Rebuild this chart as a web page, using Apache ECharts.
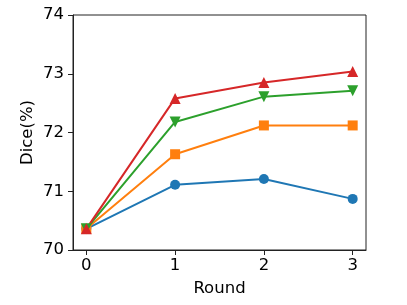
<!DOCTYPE html>
<html>
<head>
<meta charset="utf-8">
<script src="https://cdn.jsdelivr.net/npm/echarts@6/dist/echarts.min.js"></script>
<style>html,body{margin:0;padding:0;background:#fff;}#c{width:407px;height:305px;}</style>
</head>
<body>
<div id="c"></div>
<script>
const rounds = [0, 1, 2, 3];
const xTicks = [0, 1, 2, 3];
const yTicks = [70, 71, 72, 73, 74];
const seriesBlue = [70.36, 71.11, 71.21, 70.87];
const seriesOrange = [70.36, 71.63, 72.12, 72.12];
const seriesGreen = [70.36, 72.18, 72.61, 72.71];
const seriesRed = [70.36, 72.58, 72.85, 73.04];

const font = 'DejaVu Sans';
const fs = 16.5;
function mk(vals, color, symbol, size) {
  return {
    type: 'line',
    data: rounds.map((r, i) => [r, vals[i]]),
    symbol: symbol,
    symbolSize: size,
    showAllSymbol: true,
    lineStyle: { color: color, width: 2 },
    itemStyle: { color: color },
    animation: false
  };
}
const chart = echarts.init(document.getElementById('c'));
chart.setOption({
  animation: false,
  grid: { left: 73, right: 41, top: 15, bottom: 55, show: true, borderColor: '#222', borderWidth: 1, backgroundColor: '#fff' },
  xAxis: {
    type: 'value', min: -0.15, max: 3.15,
    name: 'Round', nameLocation: 'middle', nameGap: 30, nameMoveOverlap: false,
    nameTextStyle: { fontFamily: font, fontSize: fs, color: '#000' },
    axisLine: { onZero: false, lineStyle: { color: '#222', width: 1 } },
    axisTick: { show: true, length: 5, lineStyle: { color: '#222' }, customValues: xTicks },
    axisLabel: { fontFamily: font, fontSize: fs, color: '#000', margin: 7, customValues: xTicks },
    splitLine: { show: false }
  },
  yAxis: {
    type: 'value', min: 70, max: 74, interval: 1,
    name: 'Dice(%)', nameLocation: 'middle', nameGap: 37, nameMoveOverlap: false,
    nameTextStyle: { fontFamily: font, fontSize: fs, color: '#000' },
    axisLine: { show: true, onZero: false, lineStyle: { color: '#222', width: 1 } },
    axisTick: { show: true, length: 5, lineStyle: { color: '#222' } },
    axisLabel: { fontFamily: font, fontSize: fs, color: '#000', margin: 9 },
    splitLine: { show: false }
  },
  series: [
    mk(seriesBlue, '#1f77b4', 'circle', 10),
    mk(seriesOrange, '#ff7f0e', 'rect', 10),
    mk(seriesGreen, '#2ca02c', 'path://M0,0 L10,0 L5,9 Z', 11),
    mk(seriesRed, '#d62728', 'triangle', 11)
  ]
});
</script>
</body>
</html>
